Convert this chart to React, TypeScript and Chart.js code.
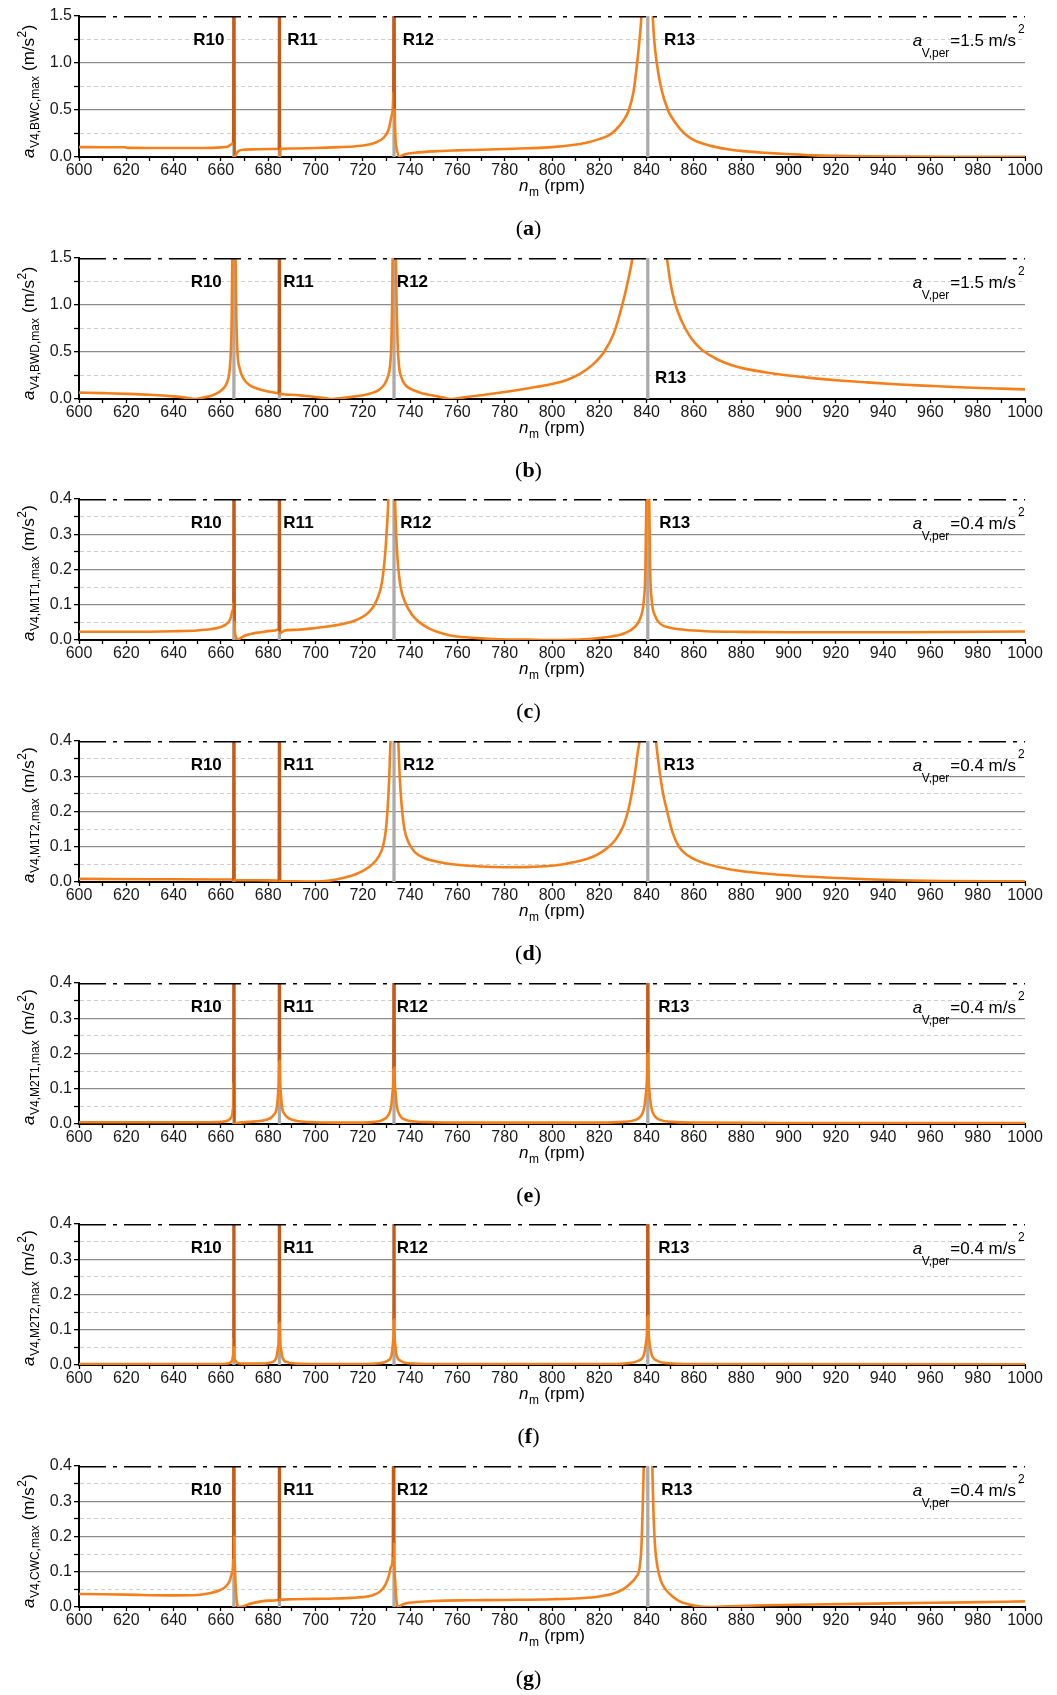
import React, { useEffect, useRef } from "react";
import { Chart, registerables } from "chart.js";
Chart.register(...registerables);

const FONT = '"Liberation Sans", Arial, Helvetica, sans-serif';
const SERIF = '"Liberation Serif", "Times New Roman", serif';
const ORANGE = "#f4801c";
const DARK = "#c85a14";
const GREY = "#ababab";

const RESONANCE_RPM = [665.5, 684.75, 733.2, 840.5];
const RES_NAMES = ["R10", "R11", "R12", "R13"];
const PANEL_LETTERS = ["a", "b", "c", "d", "e", "f", "g"];
const PANEL_SUBS = ["V4,BWC,max", "V4,BWD,max", "V4,M1T1,max", "V4,M1T2,max", "V4,M2T1,max", "V4,M2T2,max", "V4,CWC,max"];
const PANEL_MAX = [1.5, 1.5, 0.4, 0.4, 0.4, 0.4, 0.4];
const PANEL_MINOR = [0.25, 0.25, 0.05, 0.05, 0.05, 0.05, 0.05];
const PANEL_MAJOR = [0.5, 0.5, 0.1, 0.1, 0.1, 0.1, 0.1];
const PERMISSIBLE = ["=1.5 m/s", "=1.5 m/s", "=0.4 m/s", "=0.4 m/s", "=0.4 m/s", "=0.4 m/s", "=0.4 m/s"];

// label anchors (rpm of left edge, value of baseline)
const LABEL_RPM = [
  [648.3, 688.1, 736.9, 847.4],
  [647.2, 686.4, 734.4, 843.6],
  [647.2, 686.4, 735.8, 845.3],
  [647.2, 686.4, 737.0, 847.1],
  [647.2, 686.4, 734.4, 844.9],
  [647.2, 686.4, 734.4, 844.9],
  [647.2, 686.4, 734.4, 846.2],
];
const LABEL_VAL = [
  [1.19, 1.19, 1.19, 1.19],
  [1.19, 1.19, 1.19, 0.17],
  [0.318, 0.318, 0.318, 0.318],
  [0.318, 0.318, 0.318, 0.318],
  [0.318, 0.318, 0.318, 0.318],
  [0.318, 0.318, 0.318, 0.318],
  [0.318, 0.318, 0.318, 0.318],
];

const curveA: number[][] = [
  [600, 0.105], [610, 0.104], [619.5, 0.104], [620.5, 0.097], [630, 0.096], [640, 0.095], [650, 0.095], [656, 0.097],
  [660, 0.102], [663, 0.112], [664.5, 0.135], [665.2, 0.17], [665.5, 3.0], [665.8, 0.0], [666.5, 0.035], [667.5, 0.065],
  [670, 0.078], [675, 0.082], [680, 0.085], [684.55, 0.087], [684.75, 3.0], [684.95, 0.0], [685.2, 0.088], [690, 0.09],
  [700, 0.095], [710, 0.105], [717, 0.115], [722, 0.13], [726, 0.16], [729, 0.21], [731, 0.3], [732.3, 0.45],
  [732.9, 0.7], [733.2, 3.0], [733.5, 0.5], [734.2, 0.1], [735.5, 0.0], [736.5, 0.015], [738, 0.03], [742, 0.045],
  [750, 0.06], [760, 0.07], [770, 0.077], [780, 0.085], [790, 0.093], [800, 0.105], [808, 0.125], [815, 0.155],
  [820, 0.19], [824, 0.23], [827, 0.29], [830, 0.38], [832.5, 0.5], [834.5, 0.7], [836, 1.0], [837.2, 1.3],
  [837.8, 1.5], [840.2, 3.0], [842.6, 1.5], [843.2, 1.25], [844.3, 1.0], [846, 0.75], [849, 0.5], [852, 0.37],
  [856, 0.25], [860, 0.18], [864, 0.14], [868, 0.113], [875, 0.08], [882, 0.06], [890, 0.045], [897, 0.035],
  [905, 0.025], [911, 0.017], [920, 0.012], [932, 0.007], [950, 0.004], [970, 0.002], [1000, 0.001],
];

const curveB: number[][] = [
  [600, 0.068], [610, 0.062], [620, 0.055], [630, 0.045], [640, 0.028], [645, 0.015], [649, 0.0], [652, 0.012],
  [656, 0.035], [659, 0.07], [661, 0.11], [662.5, 0.17], [663.5, 0.27], [664.2, 0.5], [664.6, 0.9], [664.8, 1.5],
  [665.5, 3.0], [666.2, 1.5], [666.5, 0.9], [667, 0.5], [668, 0.32], [669.5, 0.22], [672, 0.15], [675, 0.115],
  [680, 0.08], [684.5, 0.062], [684.7, 3.0], [684.95, 0.055], [690, 0.045], [695, 0.035], [700, 0.022], [704, 0.01],
  [707, 0.0], [711, 0.01], [716, 0.025], [720, 0.04], [724, 0.065], [727, 0.1], [729, 0.15], [730.5, 0.23],
  [731.5, 0.35], [732.1, 0.6], [732.4, 1.0], [732.6, 1.5], [733.3, 3.0], [734.0, 1.5], [734.3, 1.0], [734.7, 0.6],
  [735.3, 0.35], [736.3, 0.23], [738, 0.15], [740, 0.11], [744, 0.07], [748, 0.045], [752, 0.025], [755, 0.01],
  [757.5, 0.0], [762, 0.015], [770, 0.04], [780, 0.075], [790, 0.115], [800, 0.16], [806, 0.2], [812, 0.27],
  [817, 0.36], [822, 0.5], [826, 0.69], [829.7, 1.0], [832.5, 1.3], [834, 1.5], [841, 3.0], [848.6, 1.5],
  [850, 1.25], [852, 1.02], [855, 0.82], [858, 0.68], [861, 0.58], [864, 0.51], [870, 0.42], [876, 0.36], [883, 0.315],
  [890, 0.285], [900, 0.25], [910, 0.222], [920, 0.2], [933, 0.177], [947, 0.155], [961, 0.138], [975, 0.123],
  [990, 0.11], [1000, 0.102],
];

const curveC: number[][] = [
  [600, 0.0235], [620, 0.0235], [640, 0.025], [650, 0.027], [656, 0.031], [660, 0.037], [662.5, 0.046], [664, 0.06],
  [665, 0.085], [665.3, 0.11], [665.55, 0.8], [665.8, 0.05], [666.3, 0.01], [667, 0.0], [668, 0.004], [670, 0.012],
  [673, 0.018], [677, 0.022], [681, 0.026], [684.5, 0.03], [684.75, 0.8], [685.0, 0.02], [687, 0.027], [692, 0.029],
  [700, 0.034], [706, 0.039], [712, 0.046], [717, 0.056], [721, 0.07], [724, 0.09], [726, 0.115], [728, 0.16],
  [729.4, 0.24], [730.3, 0.33], [730.8, 0.4], [732, 0.8], [733.6, 0.4], [734.1, 0.3], [734.8, 0.22], [736, 0.15],
  [738, 0.105], [741, 0.07], [744, 0.05], [748, 0.033], [752, 0.022], [757, 0.013], [765, 0.007], [775, 0.003],
  [790, 0.001], [800, 0.0], [815, 0.003], [825, 0.01], [831, 0.02], [835, 0.037], [837.5, 0.065], [838.8, 0.11],
  [839.5, 0.2], [839.9, 0.4], [840.5, 0.8], [841.1, 0.4], [841.5, 0.2], [842.2, 0.11], [843.5, 0.07], [846, 0.045],
  [850, 0.035], [856, 0.029], [865, 0.025], [880, 0.023], [900, 0.022], [950, 0.022], [1000, 0.024],
];

const curveD: number[][] = [
  [600, 0.009], [630, 0.008], [660, 0.007], [665.25, 0.007], [665.5, 0.8], [665.75, 0.005], [675, 0.005], [684.5, 0.004],
  [684.75, 0.8], [685.0, 0.003], [692, 0.002], [700, 0.001], [706, 0.004], [712, 0.012], [717, 0.022], [721, 0.035],
  [724, 0.05], [726.5, 0.07], [728.5, 0.1], [729.8, 0.15], [730.6, 0.22], [731.2, 0.3], [731.7, 0.4], [733.2, 0.8],
  [735, 0.4], [735.6, 0.3], [736.4, 0.22], [737.6, 0.15], [739.5, 0.11], [742, 0.085], [746, 0.068], [752, 0.057],
  [760, 0.049], [770, 0.044], [780, 0.042], [791, 0.043], [800, 0.046], [806, 0.052], [812, 0.06], [817, 0.071],
  [821, 0.085], [824, 0.1], [826.5, 0.117], [828.5, 0.137], [830.5, 0.165], [832.3, 0.205], [833.8, 0.255], [835.2, 0.315],
  [836.3, 0.37], [837, 0.4], [840.5, 0.8], [844, 0.4], [845, 0.34], [846, 0.29], [847, 0.25], [848.7, 0.2],
  [851, 0.14], [853.7, 0.1], [857, 0.077], [861, 0.062], [866, 0.05], [876, 0.035], [890, 0.024], [904, 0.017],
  [918, 0.012], [933, 0.008], [947, 0.005], [965, 0.003], [1000, 0.002],
];

const curveE: number[][] = [
  [600, 0.005], [640, 0.005], [655, 0.005], [660, 0.006], [663, 0.01], [664.5, 0.02], [665.1, 0.045], [665.3, 0.12],
  [665.5, 0.8], [665.75, 0.0], [666.3, 0.002], [668, 0.004], [672, 0.006], [677, 0.009], [680.5, 0.015], [682.5, 0.027],
  [683.7, 0.05], [684.3, 0.1], [684.55, 0.18], [684.75, 0.8], [684.95, 0.18], [685.2, 0.1], [685.8, 0.05], [687, 0.027],
  [689, 0.015], [693, 0.008], [700, 0.005], [710, 0.004], [720, 0.004], [725, 0.006], [728.5, 0.012], [730.8, 0.025],
  [732, 0.05], [732.7, 0.1], [732.95, 0.16], [733.2, 0.8], [733.45, 0.16], [733.7, 0.1], [734.4, 0.05], [735.6, 0.025],
  [738, 0.012], [742, 0.007], [750, 0.005], [770, 0.004], [800, 0.004], [820, 0.004], [830, 0.006], [835, 0.011],
  [837.5, 0.022], [839.1, 0.05], [839.9, 0.1], [840.3, 0.2], [840.5, 0.8], [840.75, 0.2], [841.1, 0.1], [841.9, 0.05],
  [843.5, 0.022], [846, 0.011], [851, 0.006], [860, 0.004], [900, 0.003], [1000, 0.003],
];

const curveF: number[][] = [
  [600, 0.003], [660, 0.003], [663.5, 0.005], [664.7, 0.012], [665.2, 0.03], [665.35, 0.08], [665.5, 0.8], [665.65, 0.05],
  [665.9, 0.015], [667, 0.006], [670, 0.004], [678, 0.004], [681.5, 0.008], [683.4, 0.02], [684.2, 0.05], [684.55, 0.12],
  [684.75, 0.8], [684.95, 0.12], [685.3, 0.05], [686.1, 0.02], [688, 0.008], [692, 0.004], [700, 0.003], [720, 0.003],
  [727, 0.005], [730.5, 0.012], [732.2, 0.03], [732.85, 0.07], [733.05, 0.13], [733.2, 0.8], [733.35, 0.13], [733.55, 0.07],
  [734.2, 0.03], [735.9, 0.012], [739, 0.005], [750, 0.003], [825, 0.003], [832, 0.005], [836.5, 0.012], [838.9, 0.03],
  [839.9, 0.07], [840.25, 0.14], [840.5, 0.8], [840.75, 0.14], [841.1, 0.07], [842.1, 0.03], [844.5, 0.012], [849, 0.005],
  [860, 0.003], [1000, 0.002],
];

const curveG: number[][] = [
  [600, 0.037], [620, 0.035], [640, 0.033], [650, 0.034], [655, 0.039], [659, 0.046], [662, 0.058], [663.8, 0.075],
  [664.8, 0.1], [665.2, 0.14], [665.45, 0.8], [665.7, 0.2], [665.9, 0.12], [666.3, 0.05], [666.8, 0.012], [667.5, 0.0],
  [669.5, 0.002], [671, 0.006], [673.5, 0.011], [677, 0.016], [680, 0.018], [684.55, 0.02], [684.75, 0.8], [684.95, 0.021],
  [690, 0.022], [700, 0.023], [708, 0.024], [715, 0.026], [720, 0.028], [724, 0.033], [727.5, 0.045], [729.7, 0.065],
  [731, 0.088], [732, 0.115], [732.7, 0.145], [732.95, 0.8], [733.2, 0.18], [733.6, 0.08], [734.2, 0.02], [734.8, 0.0],
  [736, 0.004], [738, 0.01], [743, 0.014], [750, 0.017], [765, 0.019], [780, 0.02], [800, 0.022], [812, 0.025],
  [820, 0.03], [826, 0.038], [830, 0.05], [833, 0.066], [835.5, 0.085], [837, 0.11], [837.8, 0.17], [838.3, 0.27],
  [838.8, 0.4], [840.6, 0.8], [842.4, 0.4], [842.9, 0.27], [843.6, 0.17], [844.7, 0.11], [846, 0.075], [848, 0.05],
  [851, 0.03], [854, 0.016], [858, 0.007], [863, 0.001], [868, 0.0], [875, 0.002], [890, 0.005], [910, 0.007],
  [930, 0.009], [950, 0.011], [975, 0.013], [1000, 0.016],
];

const CURVES = [curveA, curveB, curveC, curveD, curveE, curveF, curveG];

const PANEL_STEP = 241.67;

function isMultiple(v: number, step: number) {
  const r = v / step;
  return Math.abs(r - Math.round(r)) < 1e-6;
}

function textPlugin(index: number) {
  return {
    id: "panelText",
    afterDraw(chart: any) {
      const ctx = chart.ctx as CanvasRenderingContext2D;
      const { top, left, right } = chart.chartArea;
      const xs = chart.scales.x;
      const ys = chart.scales.y;
      ctx.save();
      ctx.fillStyle = "#000";
      ctx.textBaseline = "alphabetic";
      ctx.textAlign = "left";

      // resonance labels
      ctx.font = `bold 17px ${FONT}`;
      RES_NAMES.forEach((n, k) => {
        ctx.fillText(n, xs.getPixelForValue(LABEL_RPM[index][k]), ys.getPixelForValue(LABEL_VAL[index][k]));
      });

      // permissible label
      ctx.font = `17px ${FONT}`;
      const eq = PERMISSIBLE[index];
      const eqW = ctx.measureText(eq).width;
      const eqX = right - 9 - eqW;
      ctx.fillText(eq, eqX, top + 30);
      ctx.font = `12px ${FONT}`;
      ctx.fillText("2", right - 7, top + 17);
      const sub = "V,per";
      const subW = ctx.measureText(sub).width;
      const subX = eqX - 1 - subW;
      ctx.fillText(sub, subX, top + 41);
      ctx.font = `italic 17px ${FONT}`;
      const aW = ctx.measureText("a").width;
      ctx.fillText("a", subX - aW + 0.5, top + 30);

      // x-axis title
      ctx.font = `italic 17px ${FONT}`;
      const nW = ctx.measureText("n").width;
      ctx.font = `12px ${FONT}`;
      const mW = ctx.measureText("m").width;
      ctx.font = `17px ${FONT}`;
      const rpmTxt = " (rpm)";
      const rW = ctx.measureText(rpmTxt).width;
      let tx = (left + right) / 2 - (nW + mW + 1 + rW) / 2;
      ctx.font = `italic 17px ${FONT}`;
      ctx.fillText("n", tx, top + 175);
      tx += nW + 0.5;
      ctx.font = `12px ${FONT}`;
      ctx.fillText("m", tx, top + 180);
      tx += mW + 0.5;
      ctx.font = `17px ${FONT}`;
      ctx.fillText(rpmTxt, tx, top + 175);

      // panel letter
      ctx.font = `22px ${SERIF}`;
      const pW = ctx.measureText("(").width;
      const cW = ctx.measureText(")").width;
      ctx.font = `bold 22px ${SERIF}`;
      const lW = ctx.measureText(PANEL_LETTERS[index]).width;
      let px = chart.width / 2 - (pW + lW + cW) / 2;
      const py = top + 219;
      ctx.font = `22px ${SERIF}`;
      ctx.fillText("(", px, py);
      px += pW;
      ctx.font = `bold 22px ${SERIF}`;
      ctx.fillText(PANEL_LETTERS[index], px, py);
      px += lW;
      ctx.font = `22px ${SERIF}`;
      ctx.fillText(")", px, py);

      // y-axis title (rotated)
      ctx.save();
      ctx.translate(33.5, top + 142);
      ctx.rotate(-Math.PI / 2);
      let u = 0;
      ctx.font = `italic 17px ${FONT}`;
      ctx.fillText("a", u, 0);
      u += ctx.measureText("a").width + 0.5;
      ctx.font = `12px ${FONT}`;
      ctx.fillText(PANEL_SUBS[index], u, 5);
      u += ctx.measureText(PANEL_SUBS[index]).width + 5;
      ctx.font = `17px ${FONT}`;
      ctx.fillText("(m/s", u, 0);
      u += ctx.measureText("(m/s").width + 0.5;
      ctx.font = `12px ${FONT}`;
      ctx.fillText("2", u, -8);
      u += ctx.measureText("2").width + 0.5;
      ctx.font = `17px ${FONT}`;
      ctx.fillText(")", u, 0);
      ctx.restore();

      ctx.restore();
    },
  };
}

function Panel({ index }: { index: number }) {
  const ref = useRef<HTMLCanvasElement>(null);
  useEffect(() => {
    const curve = CURVES[index];
    const max = PANEL_MAX[index];
    const major = PANEL_MAJOR[index];
    const minor = PANEL_MINOR[index];
    const datasets: any[] = [
      {
        label: "limit",
        data: [{ x: 600, y: max }, { x: 1000, y: max }],
        borderColor: "#000",
        borderWidth: 3,
        borderDash: [27, 7, 4, 7],
        pointRadius: 0,
        order: 0,
      },
      {
        label: "curve",
        data: curve.map((p) => ({ x: p[0], y: p[1] })),
        borderColor: ORANGE,
        borderWidth: 2.6,
        borderJoinStyle: "round",
        borderCapStyle: "round",
        cubicInterpolationMode: "monotone",
        pointRadius: 0,
        order: 1,
        segment: {
          borderColor: (c: any) => {
            const a = curve[c.p0DataIndex];
            const b = curve[c.p1DataIndex];
            if (!a || !b) return undefined;
            return (a[1] > max || b[1] > max) && Math.abs(b[0] - a[0]) < 0.45 ? DARK : undefined;
          },
        },
      },
      ...RESONANCE_RPM.map((r) => ({
        label: "res",
        data: [{ x: r, y: 0 }, { x: r, y: max }],
        borderColor: GREY,
        borderWidth: 3.3,
        pointRadius: 0,
        order: 2,
      })),
    ];
    const chart = new Chart(ref.current as HTMLCanvasElement, {
      type: "line",
      data: { datasets },
      options: {
        animation: false,
        responsive: false,
        maintainAspectRatio: false,
        events: [],
        layout: { padding: { top: 16, right: 32, left: 0, bottom: 0 } },
        plugins: { legend: { display: false }, tooltip: { enabled: false }, title: { display: false } },
        scales: {
          x: {
            type: "linear",
            min: 600,
            max: 1000,
            afterFit: (s: any) => {
              s.height = 85;
            },
            border: { color: "#000", width: 2 },
            grid: { drawOnChartArea: false, drawTicks: true, tickLength: 4, tickColor: "#000", tickWidth: 1.3 },
            ticks: {
              stepSize: 10,
              autoSkip: false,
              maxRotation: 0,
              minRotation: 0,
              padding: 0,
              color: "#1a1a1a",
              font: { family: FONT, size: 16 },
              callback: (v: any) => (isMultiple(Number(v), 20) ? String(v) : ""),
            },
          },
          y: {
            type: "linear",
            min: 0,
            max,
            afterFit: (s: any) => {
              s.width = 79;
            },
            border: {
              color: "#000",
              width: 2,
              dash: (c: any) => (c.tick && !isMultiple(c.tick.value, major) ? [4, 3] : []),
            },
            grid: {
              drawTicks: true,
              tickLength: 5,
              tickColor: "#000",
              tickWidth: 1.3,
              lineWidth: (c: any) => (c.tick && isMultiple(c.tick.value, major) ? 1.3 : 1),
              color: (c: any) => {
                if (!c.tick) return "rgba(0,0,0,0)";
                const v = c.tick.value;
                if (v <= 1e-9 || v >= max - 1e-9) return "rgba(0,0,0,0)";
                return isMultiple(v, major) ? "#8c8c8c" : "#cdcdcd";
              },
            },
            ticks: {
              stepSize: minor,
              autoSkip: false,
              padding: 2,
              color: "#1a1a1a",
              font: { family: FONT, size: 16 },
              callback: (v: any) => (isMultiple(Number(v), major) ? Number(v).toFixed(1) : ""),
            },
          },
        },
      },
      plugins: [textPlugin(index)],
    } as any);
    return () => chart.destroy();
  }, [index]);
  return (
    <canvas
      ref={ref}
      width={1057}
      height={242}
      style={{ position: "absolute", left: 0, top: Math.round(index * PANEL_STEP), width: 1057, height: 242 }}
    />
  );
}

export default function App() {
  return (
    <div style={{ position: "absolute", left: 0, top: 0, width: 1057, height: 1695, background: "#fff", overflow: "hidden" }}>
      {PANEL_LETTERS.map((_, i) => (
        <Panel key={i} index={i} />
      ))}
    </div>
  );
}
